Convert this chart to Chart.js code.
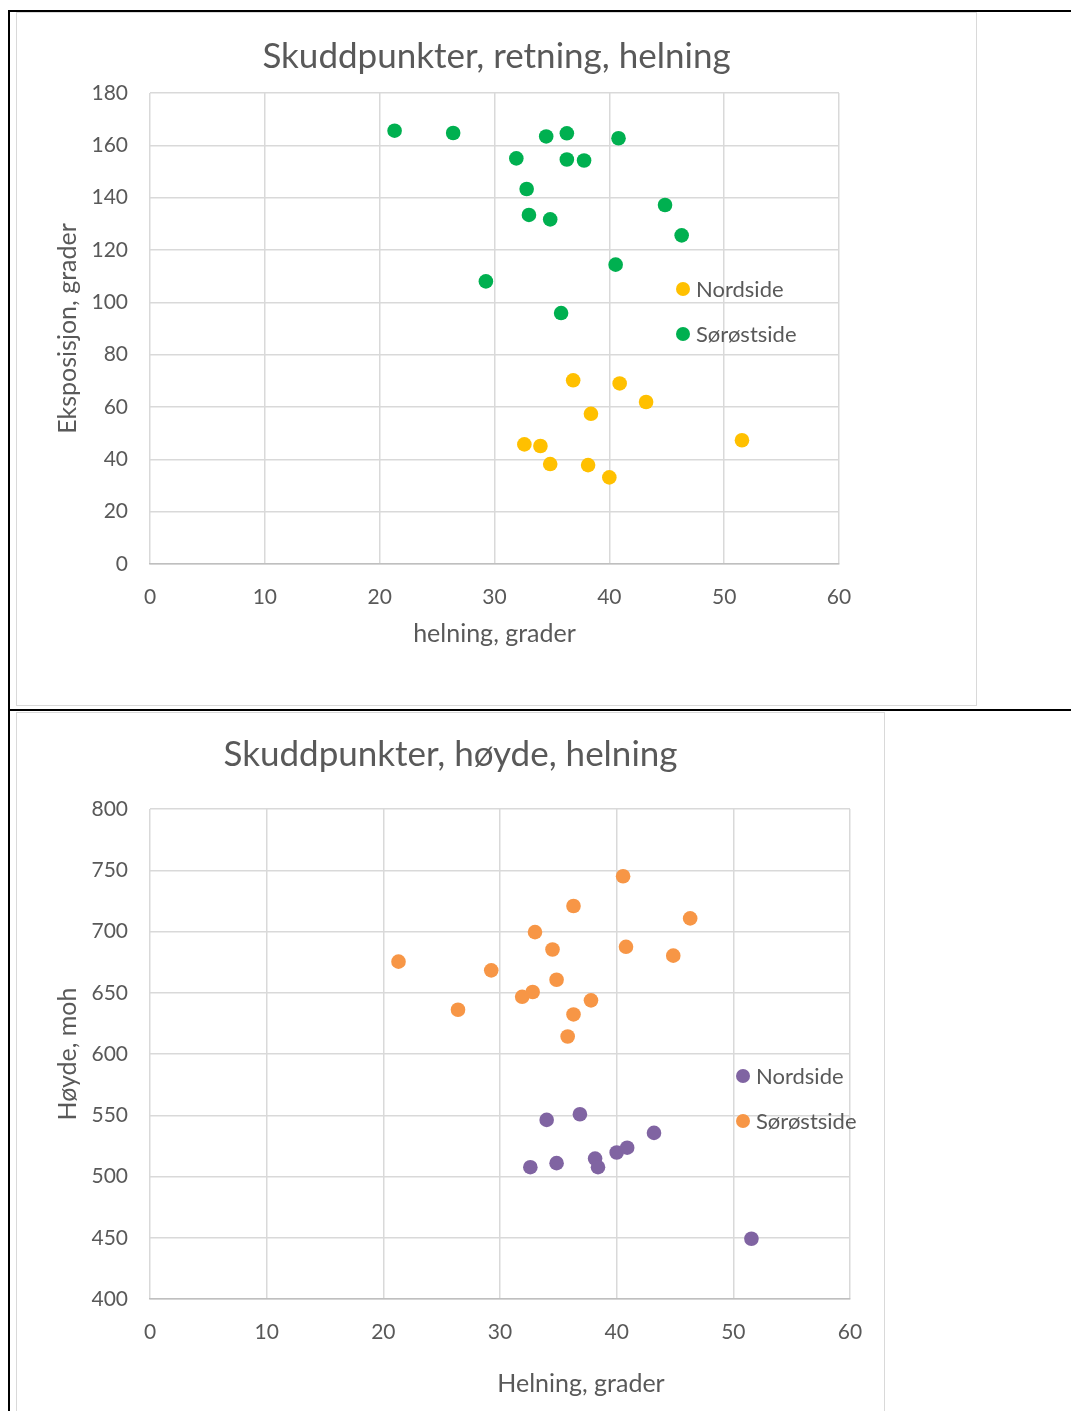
<!DOCTYPE html>
<html>
<head>
<meta charset="utf-8">
<script src="https://cdn.jsdelivr.net/npm/chart.js@4.4.0/dist/chart.umd.min.js"></script>
<style>
  body { margin: 0; background: #fff; width: 1071px; height: 1411px; overflow: hidden; position: relative; }
  .rule { position: absolute; background: #000; }
  .box { position: absolute; border: 1px solid #d9d9d9; background: #fff; }
  canvas { display: block; }
</style>
</head>
<body>
<div class="rule" style="left:8px;top:10px;width:1063px;height:2px"></div>
<div class="rule" style="left:8px;top:10px;width:2px;height:1401px"></div>
<div class="rule" style="left:8px;top:709px;width:1063px;height:2px"></div>
<div class="box" style="left:16px;top:12px;width:959px;height:692px"><canvas id="c1" width="959" height="692"></canvas></div>
<div class="box" style="left:16px;top:712px;width:867px;height:698px"><canvas id="c2" width="867" height="698"></canvas></div>
<script>
// Nordside
const nordHelning = [32.6, 34.0, 34.85, 36.85, 38.15, 38.4, 40.0, 40.9, 43.2, 51.55];
const nordRetning = [45.7, 45.1, 38.2, 70.2, 37.8, 57.4, 33.1, 69.0, 61.9, 47.3];
const nordHoyde = [507.6, 546.2, 510.9, 550.8, 514.6, 507.6, 519.6, 523.5, 535.6, 449.2];

// Sørøstside
const sorHelning = [21.3, 26.4, 34.5, 36.3, 40.8, 31.9, 36.3, 37.8, 32.8, 44.85, 33.0, 34.85, 46.3, 40.55, 29.25, 35.8];
const sorRetning = [165.6, 164.7, 163.4, 164.6, 162.7, 155.0, 154.6, 154.2, 143.3, 137.2, 133.4, 131.7, 125.6, 114.4, 108.0, 95.9];
const sorHoyde = [675.4, 636.1, 685.3, 720.8, 687.5, 646.7, 632.3, 643.8, 650.6, 680.3, 699.5, 660.6, 710.7, 745.1, 668.3, 614.3];

const seriesNames = ['Nordside', 'Sørøstside'];
const xTicks = [0, 60, 10];
const retningTicks = [0, 180, 20];
const hoydeTicks = [400, 800, 50];

const textColor = '#595959';
const gridColor = '#d9d9d9';
const fontFamily = 'Lato, "Open Sans", sans-serif';

const pairs = (xs, ys) => xs.map((x, i) => ({ x: x, y: ys[i] }));

// legend drawn inside the plot, like Excel does
const dotLegend = {
  id: 'dotLegend',
  afterDraw(chart, args, opts) {
    const ctx = chart.ctx;
    ctx.save();
    ctx.font = '22px ' + fontFamily;
    ctx.textBaseline = 'middle';
    ctx.textAlign = 'left';
    chart.data.datasets.forEach((ds, i) => {
      const y = opts.y + i * opts.gap;
      ctx.fillStyle = ds.backgroundColor;
      ctx.beginPath();
      ctx.arc(opts.x, y, 7, 0, Math.PI * 2);
      ctx.fill();
      ctx.fillStyle = textColor;
      ctx.fillText(ds.label, opts.x + 13, y + 1);
    });
    ctx.restore();
  }
};

// centre the chart title on the whole canvas and move the x axis title sideways
const titleShift = {
  id: 'titleShift',
  afterLayout(chart, args, opts) {
    if (chart.titleBlock) {
      chart.titleBlock.left = 0;
      chart.titleBlock.right = chart.width;
      chart.titleBlock.width = chart.width;
    }
    const s = chart.scales.x;
    if (!opts.dx || s._shifted) return;
    const draw = s.drawTitle;
    s.drawTitle = function () {
      this.ctx.save();
      this.ctx.translate(opts.dx, 0);
      draw.apply(this, arguments);
      this.ctx.restore();
    };
    s._shifted = true;
  }
};

function makeChart(id, cfg) {
  new Chart(document.getElementById(id), {
    type: 'scatter',
    data: {
      datasets: [
        { label: seriesNames[0], data: cfg.nord, backgroundColor: cfg.colors[0], borderColor: cfg.colors[0] },
        { label: seriesNames[1], data: cfg.sor, backgroundColor: cfg.colors[1], borderColor: cfg.colors[1] }
      ]
    },
    options: {
      responsive: false,
      animation: false,
      events: [],
      elements: { point: { radius: 7.3, borderWidth: 0, hoverRadius: 7.3 } },
      layout: { padding: { left: 0, right: cfg.padRight, top: 0, bottom: 0 } },
      plugins: {
        legend: { display: false },
        tooltip: { enabled: false },
        title: {
          display: true,
          text: cfg.title,
          color: textColor,
          font: { family: fontFamily, size: 35, weight: 'normal' },
          padding: cfg.titlePad
        },
        dotLegend: cfg.legend,
        titleShift: { dx: cfg.xTitleShift }
      },
      scales: {
        x: {
          type: 'linear',
          min: xTicks[0], max: xTicks[1],
          ticks: { stepSize: xTicks[2], color: textColor, font: { family: fontFamily, size: 21 }, padding: 21 },
          grid: { color: gridColor, lineWidth: 1.5, drawTicks: false },
          border: { color: '#bfbfbf', width: 1.5 },
          title: {
            display: true, text: cfg.xTitle, color: textColor,
            font: { family: fontFamily, size: 25 }, padding: { top: 0, bottom: cfg.xTitleBottom }
          },
          afterFit: s => { s.height = cfg.xHeight; }
        },
        y: {
          type: 'linear',
          min: cfg.yTicks[0], max: cfg.yTicks[1],
          ticks: { stepSize: cfg.yTicks[2], color: textColor, font: { family: fontFamily, size: 21 }, padding: 22 },
          grid: { color: gridColor, lineWidth: 1.5, drawTicks: false },
          border: { display: false },
          title: {
            display: true, text: cfg.yTitle, color: textColor,
            font: { family: fontFamily, size: 25 }, padding: { top: 36, bottom: 0 }
          },
          afterFit: s => { s.width = 133; }
        }
      }
    },
    plugins: [dotLegend, titleShift]
  });
}

makeChart('c1', {
  title: 'Skuddpunkter, retning, helning',
  xTitle: 'helning, grader',
  yTitle: 'Eksposisjon, grader',
  nord: pairs(nordHelning, nordRetning),
  sor: pairs(sorHelning, sorRetning),
  colors: ['#FFC000', '#00B050'],
  yTicks: retningTicks,
  padRight: 137,
  titlePad: { top: 23, bottom: 15 },
  xHeight: 141,
  xTitleBottom: 56,
  xTitleShift: 0,
  legend: { x: 666, y: 276, gap: 45 }
});

makeChart('c2', {
  title: 'Skuddpunkter, høyde, helning',
  xTitle: 'Helning, grader',
  yTitle: 'Høyde, moh',
  nord: pairs(nordHelning, nordHoyde),
  sor: pairs(sorHelning, sorHoyde),
  colors: ['#8064A2', '#F79646'],
  yTicks: hoydeTicks,
  padRight: 34,
  titlePad: { top: 21, bottom: 33 },
  xHeight: 112,
  xTitleBottom: 12,
  xTitleShift: 81,
  legend: { x: 726, y: 363, gap: 45 }
});
</script>
</body>
</html>
